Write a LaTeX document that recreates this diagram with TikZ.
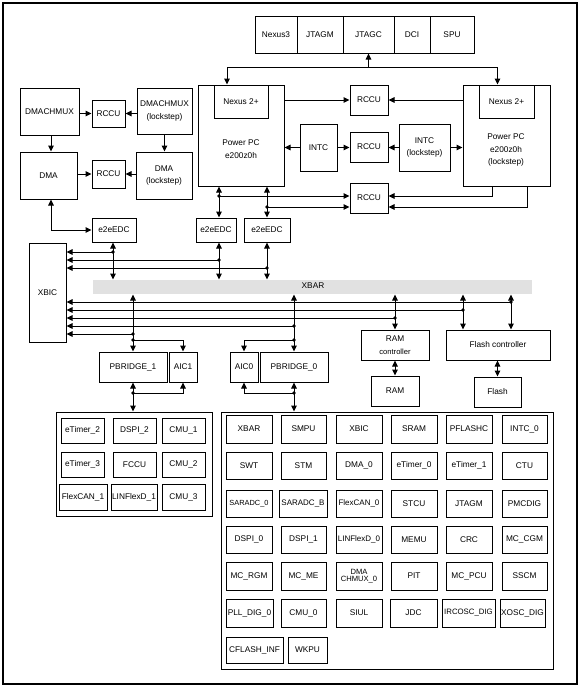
\documentclass[tikz,border=0pt]{standalone}
\usepackage{fontspec}
\setmainfont{Liberation Sans}
\usetikzlibrary{arrows.meta,calc}
\definecolor{xbargray}{HTML}{E1E1E1}
\newcommand\mysz{\fontsize{8.3}{10}\selectfont}
\newcommand\mybox[7][]{\node[box,minimum width={#5-#3},minimum height={#6-#4},#1] (#2) at ({(#3+#5)/2},{(#4+#6)/2}) {#7};}
\begin{document}
\begin{tikzpicture}[x=1pt,y=-1pt,
  box/.style={draw,line width=1pt,inner sep=0pt,align=center,font=\mysz},
  txt/.style={inner sep=0pt,align=center,font=\fontsize{8.3}{12.5}\selectfont},
  arr/.style={line width=1pt,-{Triangle[length=6pt,width=5.5pt]}},
  biarr/.style={line width=1pt,{Triangle[length=6pt,width=5.5pt]}-{Triangle[length=6pt,width=5.5pt]}},
]
\useasboundingbox (0,0) rectangle (585,689);
\draw[line width=1.2pt] (3,3) rectangle (577,684);

% debug row
\mybox{nexus3}{255}{16}{297}{53}{Nexus3}
\mybox{jtagm}{297}{16}{343}{53}{JTAGM}
\mybox{jtagc}{343}{16}{394}{53}{JTAGC}
\mybox{dci}{394}{16}{430}{53}{DCI}
\mybox{spu}{430}{16}{474}{53}{SPU}

% cores
\mybox{ppcL}{198}{85}{284}{186}{}
\mybox{nexL}{214}{85}{268}{118}{Nexus 2+}
\node[txt] (ppcLt) at (241,149) {Power PC\\e200z0h};
\mybox{ppcR}{463}{85}{550}{186}{}
\mybox{nexR}{479}{85}{534}{118}{Nexus 2+}
\node[txt] (ppcRt) at (506,150) {Power PC\\e200z0h\\(lockstep)};

\mybox{rccuA}{350}{85}{388}{115}{RCCU}
\mybox{rccuB}{350}{132}{388}{162}{RCCU}
\mybox{rccuC}{350}{183}{388}{213}{RCCU}
\mybox{intc}{300}{124}{337}{171}{INTC}
\mybox[font=\fontsize{8.3}{12.5}\selectfont]{intcls}{399}{124}{450}{171}{INTC\\(lockstep)}

% DMA side
\mybox{dmamux}{20}{88}{79}{135}{DMACHMUX}
\mybox{rccuD}{92}{100}{125}{127}{RCCU}
\mybox[font=\fontsize{8.3}{12.5}\selectfont]{dmamuxls}{137}{88}{192}{134}{DMACHMUX\\(lockstep)}
\mybox{dma}{20}{152}{77}{199}{DMA}
\mybox{rccuE}{92}{160}{125}{188}{RCCU}
\mybox[font=\fontsize{8.3}{12.5}\selectfont]{dmals}{136}{152}{192}{199}{DMA\\(lockstep)}

% e2eEDC
\mybox{e2eA}{92}{218}{136}{242}{e2eEDC}
\mybox{e2eB}{196}{218}{236}{242}{e2eEDC}
\mybox{e2eC}{244}{218}{290}{242}{e2eEDC}

% XBAR & XBIC
\mybox[draw=none,fill=xbargray]{xbar}{93}{280}{532}{294}{}
\node[txt] (xbart) at (313,286) {XBAR};
\mybox{xbic}{29}{243}{66}{342}{XBIC}

% slaves
\mybox{pbr1}{99}{352}{167}{382}{PBRIDGE\_1}
\mybox{aic1}{169}{352}{197}{382}{AIC1}
\mybox{aic0}{230}{352}{258}{382}{AIC0}
\mybox{pbr0}{260}{352}{328}{382}{PBRIDGE\_0}
\mybox[font=\fontsize{8.3}{12.5}\selectfont]{ramc}{361}{330}{429}{360}{RAM\\{\fontsize{7.6}{9}\selectfont controller}}
\mybox{ram}{371}{376}{419}{406}{RAM}
\mybox{flc}{446}{330}{550}{360}{Flash controller}
\mybox{flash}{474}{377}{521}{407}{Flash}

% peripheral groups
\mybox{grpL}{56}{412}{212}{516}{}
\mybox{grpR}{221}{412}{553}{669}{}

\mybox{l11}{61}{418}{104}{443}{eTimer\_2}
\mybox{l12}{113}{418}{156}{443}{DSPI\_2}
\mybox{l13}{162}{418}{205}{443}{CMU\_1}
\mybox{l21}{61}{452}{104}{477}{eTimer\_3}
\mybox{l22}{113}{452}{156}{477}{FCCU}
\mybox{l23}{162}{452}{205}{477}{CMU\_2}
\mybox{l31}{59}{484}{107}{510}{FlexCAN\_1}
\mybox{l32}{111}{484}{157}{510}{LINFlexD\_1}
\mybox{l33}{162}{484}{205}{510}{CMU\_3}

\mybox{r11}{226}{415}{272}{443}{XBAR}
\mybox{r12}{281}{415}{326}{443}{SMPU}
\mybox{r13}{336}{415}{382}{443}{XBIC}
\mybox{r14}{391}{415}{437}{443}{SRAM}
\mybox{r15}{446}{415}{492}{443}{PFLASHC}
\mybox{r16}{502}{415}{547}{443}{INTC\_0}
\mybox{r21}{226}{452}{272}{479}{SWT}
\mybox{r22}{281}{452}{326}{479}{STM}
\mybox{r23}{336}{452}{382}{479}{DMA\_0}
\mybox{r24}{391}{452}{437}{479}{eTimer\_0}
\mybox{r25}{446}{452}{492}{479}{eTimer\_1}
\mybox{r26}{502}{452}{547}{479}{CTU}
\mybox[font=\fontsize{7.4}{9}\selectfont]{r31}{226}{490}{272}{517}{SARADC\_0}
\mybox[font=\fontsize{8}{9}\selectfont]{r32}{279}{490}{327}{517}{SARADC\_B}
\mybox[font=\fontsize{8}{9}\selectfont]{r33}{336}{490}{382}{517}{FlexCAN\_0}
\mybox{r34}{391}{490}{437}{517}{STCU}
\mybox{r35}{446}{490}{492}{517}{JTAGM}
\mybox{r36}{502}{490}{547}{517}{PMCDIG}
\mybox{r41}{226}{526}{272}{553}{DSPI\_0}
\mybox{r42}{281}{526}{326}{553}{DSPI\_1}
\mybox[font=\fontsize{8}{9}\selectfont]{r43}{336}{526}{382}{553}{LINFlexD\_0}
\mybox{r44}{391}{526}{437}{553}{MEMU}
\mybox{r45}{446}{526}{492}{553}{CRC}
\mybox{r46}{502}{526}{547}{553}{MC\_CGM}
\mybox{r51}{226}{562}{272}{590}{MC\_RGM}
\mybox{r52}{281}{562}{326}{590}{MC\_ME}
\mybox[font=\fontsize{7.6}{7.6}\selectfont]{r53}{336}{562}{382}{590}{DMA\\CHMUX\_0}
\mybox{r54}{391}{562}{437}{590}{PIT}
\mybox{r55}{446}{562}{492}{590}{MC\_PCU}
\mybox{r56}{502}{562}{547}{590}{SSCM}
\mybox{r61}{226}{599}{273}{627}{PLL\_DIG\_0}
\mybox{r62}{281}{599}{326}{627}{CMU\_0}
\mybox{r63}{336}{599}{382}{627}{SIUL}
\mybox{r64}{390}{599}{437}{627}{JDC}
\mybox[font=\fontsize{7.8}{9}\selectfont]{r65}{442}{599}{495}{627}{IRCOSC\_DIG}
\mybox{r66}{500}{599}{545}{627}{XOSC\_DIG}
\mybox{r71}{226}{637}{283}{663}{CFLASH\_INF}
\mybox{r72}{288}{637}{327}{663}{WKPU}

% junction coordinates
\coordinate (jt) at (368.5,67);
\coordinate (jA) at (219,196);
\coordinate (jB) at (267,207);
\coordinate (kA) at (113,252);
\coordinate (kB) at (219,260);
\coordinate (kC) at (267,268);
\coordinate (m1) at (511,302);
\coordinate (m2) at (463,310);
\coordinate (m3) at (395,318);
\coordinate (m4) at (294,326);
\coordinate (m5) at (133,334);
\coordinate (b1) at (133,340);
\coordinate (b0) at (294,340);
\coordinate (c1) at (133,393);
\coordinate (c0) at (294,393);

% debug connections
\draw[arr] (jt) -- (jt |- jtagc.south);
\draw[arr] (jt) -| ([xshift=-14pt]nexL.north);
\draw[arr] (jt) -| ([xshift=-9pt]nexR.north);

% core connections
\draw[arr] (ppcL.east |- rccuA) -- (rccuA.west);
\draw[arr] (ppcR.west |- rccuA) -- (rccuA.east);
\draw[arr] (intc.west) -- (intc.west -| ppcL.east);
\draw[arr] (intc.east) -- (intc.east -| rccuB.west);
\draw[arr] (intcls.west) -- (intcls.west -| rccuB.east);
\draw[arr] (intcls.east) -- (intcls.east -| ppcR.west);
\draw[biarr] (jA |- ppcL.south) -- (jA |- e2eB.north);
\draw[biarr] (jB |- ppcL.south) -- (jB |- e2eC.north);
\draw[arr] (jA) -- (jA -| rccuC.west);
\draw[arr] (jB) -- (jB -| rccuC.west);
\draw[arr] ([xshift=-14.5pt]ppcR.south) |- (jA -| rccuC.east);
\draw[arr] ([xshift=20.5pt]ppcR.south) |- (jB -| rccuC.east);

% DMA connections
\draw[arr] (dmamux.east |- rccuD) -- (rccuD.west);
\draw[arr] (dmamuxls.west |- rccuD) -- (rccuD.east);
\draw[arr] ([xshift=1.5pt]dmamux.south) -- ([xshift=1.5pt]dmamux.south |- dma.north);
\draw[arr] (dmamuxls.south) -- (dmamuxls.south |- dmals.north);
\draw[arr] (dma.east |- rccuE) -- (rccuE.west);
\draw[arr] (dmals.west |- rccuE) -- (rccuE.east);
\draw[biarr] ([xshift=2.5pt]dma.south) |- (e2eA.west);

% masters to XBAR
\draw[biarr] (kA |- e2eA.south) -- (kA |- xbar.north);
\draw[biarr] (kB |- e2eB.south) -- (kB |- xbar.north);
\draw[biarr] (kC |- e2eC.south) -- (kC |- xbar.north);
\draw[arr] (kA) -- (kA -| xbic.east);
\draw[arr] (kB) -- (kB -| xbic.east);
\draw[arr] (kC) -- (kC -| xbic.east);

% XBAR to slaves
\draw[arr] (m1) -- (m1 -| xbic.east);
\draw[arr] (m2) -- (m2 -| xbic.east);
\draw[arr] (m3) -- (m3 -| xbic.east);
\draw[arr] (m4) -- (m4 -| xbic.east);
\draw[arr] (m5) -- (m5 -| xbic.east);
\draw[biarr] (m1 |- xbar.south) -- (m1 |- flc.north);
\draw[biarr] (m2 |- xbar.south) -- (m2 |- flc.north);
\draw[biarr] (m3 |- xbar.south) -- (m3 |- ramc.north);
\draw[biarr] (m4 |- xbar.south) -- (m4 |- pbr0.north);
\draw[biarr] (m5 |- xbar.south) -- (m5 |- pbr1.north);
\draw[arr] (b1) -| (aic1.north);
\draw[arr] (b0) -| (aic0.north);
\draw[biarr] (pbr1.south) -- (pbr1.south |- grpL.north);
\draw[biarr] (pbr0.south) -- (pbr0.south |- grpR.north);
\draw[arr] (c1) -| (aic1.south);
\draw[arr] (c0) -| (aic0.south);
\draw[biarr] (ramc.south) -- (ram.north);
\draw[biarr] (flash.north |- flc.south) -- (flash.north);

\foreach \p in {jA,jB,kA,kB,kC,m1,m2,m3,m4,m5,b1,b0,c1,c0}
  \fill (\p) circle (1.9pt);
\end{tikzpicture}
\end{document}
